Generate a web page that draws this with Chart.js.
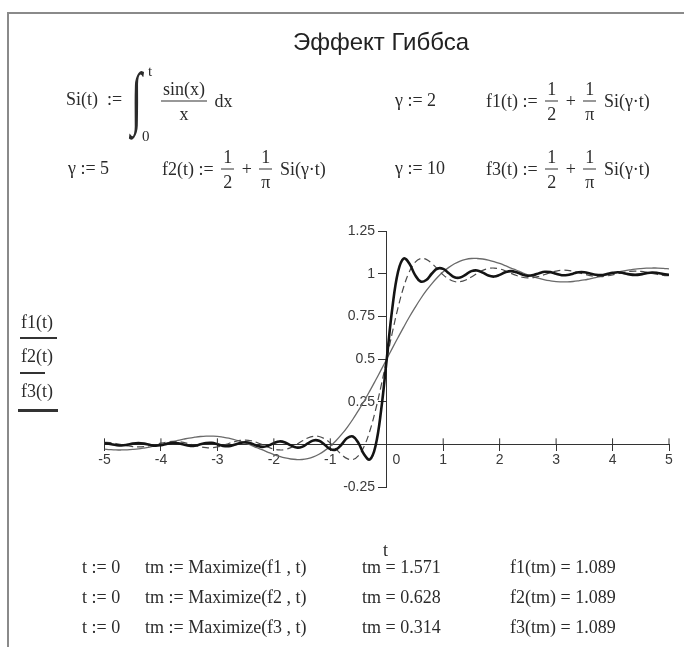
<!DOCTYPE html>
<html>
<head>
<meta charset="utf-8">
<script src="https://cdn.jsdelivr.net/npm/chart.js@4"></script>
<style>
  body { margin: 0; background: #fff; }
  #page { position: relative; width: 684px; height: 647px; overflow: hidden; background: #fff; }
  #myChart { position: absolute; left: 0; top: 0; }
  .m { position: absolute; display: flex; align-items: center; white-space: pre; transform: translateY(-50%);
       font: 18px "Liberation Serif", "Times New Roman", serif; color: #2b2b2b; }
  .fr { display: inline-flex; flex-direction: column; align-items: center; margin: 0 3px; line-height: 1; }
  .fr > span { padding: 3px 2px; }
  .fr > span:first-child { border-bottom: 1px solid #333; }
  .title { position: absolute; left: 381px; top: 42px; transform: translate(-50%, -50%);
           font: 24px "Liberation Sans", Arial, sans-serif; color: #222; white-space: pre; }
  .int { position: absolute; left: 131px; top: 97px; transform: translateY(-50%) scaleY(1.75);
         font: 40px "Liberation Serif", serif; color: #2b2b2b; }
  .lim { position: absolute; font: 15px "Liberation Serif", serif; color: #2b2b2b; transform: translateY(-50%); }
  .lg { position: absolute; background: #333; }
  .frame { position: absolute; background: #8a8a8a; }
</style>
</head>
<body>
<div id="page">
  <canvas id="myChart" width="684" height="647"></canvas>

  <div class="frame" style="left:8px; top:12px; width:676px; height:2px;"></div>
  <div class="frame" style="left:7px; top:12px; width:2px; height:635px;"></div>

  <div class="title">Эффект Гиббса</div>

  <div class="m" style="left:66px; top:99px;">Si(t)  :=</div>
  <div class="int">∫</div>
  <div class="lim" style="left:148px; top:71px;">t</div>
  <div class="lim" style="left:142px; top:136px;">0</div>
  <div class="m" style="left:158px; top:101px;"><span class="fr"><span>sin(x)</span><span>x</span></span> dx</div>

  <div class="m" style="left:395px; top:100px;">γ := 2</div>
  <div class="m" style="left:486px; top:101px;">f1(t) := <span class="fr"><span>1</span><span>2</span></span> + <span class="fr"><span>1</span><span>π</span></span> Si(γ·t)</div>

  <div class="m" style="left:68px; top:168px;">γ := 5</div>
  <div class="m" style="left:162px; top:169px;">f2(t) := <span class="fr"><span>1</span><span>2</span></span> + <span class="fr"><span>1</span><span>π</span></span> Si(γ·t)</div>
  <div class="m" style="left:395px; top:168px;">γ := 10</div>
  <div class="m" style="left:486px; top:169px;">f3(t) := <span class="fr"><span>1</span><span>2</span></span> + <span class="fr"><span>1</span><span>π</span></span> Si(γ·t)</div>

  <div class="m" style="left:21px; top:322px;">f1(t)</div>
  <div class="lg" style="left:20px; top:337px; width:37px; height:1.5px;"></div>
  <div class="m" style="left:21px; top:356px;">f2(t)</div>
  <div class="lg" style="left:20px; top:372px; width:25px; height:1.5px;"></div>
  <div class="m" style="left:21px; top:391px;">f3(t)</div>
  <div class="lg" style="left:18px; top:409px; width:40px; height:2.5px;"></div>

  <div class="m" style="left:383px; top:550px;">t</div>

  <div class="m" style="left:82px; top:567px;">t := 0</div>
  <div class="m" style="left:145px; top:567px;">tm := Maximize(f1 , t)</div>
  <div class="m" style="left:362px; top:567px;">tm = 1.571</div>
  <div class="m" style="left:510px; top:567px;">f1(tm) = 1.089</div>

  <div class="m" style="left:82px; top:597px;">t := 0</div>
  <div class="m" style="left:145px; top:597px;">tm := Maximize(f2 , t)</div>
  <div class="m" style="left:362px; top:597px;">tm = 0.628</div>
  <div class="m" style="left:510px; top:597px;">f2(tm) = 1.089</div>

  <div class="m" style="left:82px; top:627px;">t := 0</div>
  <div class="m" style="left:145px; top:627px;">tm := Maximize(f3 , t)</div>
  <div class="m" style="left:362px; top:627px;">tm = 0.314</div>
  <div class="m" style="left:510px; top:627px;">f3(tm) = 1.089</div>
</div>

<script>
// values, t from -5 to 5
const tValues = [
  -5, -4.9, -4.8, -4.7, -4.6, -4.5, -4.4, -4.3, -4.2, -4.1,
  -4, -3.9, -3.8, -3.7, -3.6, -3.5, -3.4, -3.3, -3.2, -3.1,
  -3, -2.9, -2.8, -2.7, -2.6, -2.5, -2.4, -2.3, -2.2, -2.1,
  -2, -1.9, -1.8, -1.7, -1.6, -1.5, -1.4, -1.3, -1.2, -1.1,
  -1, -0.9, -0.8, -0.7, -0.6, -0.5, -0.4, -0.3, -0.2, -0.1,
  0, 0.1, 0.2, 0.3, 0.4, 0.5, 0.6, 0.7, 0.8, 0.9,
  1, 1.1, 1.2, 1.3, 1.4, 1.5, 1.6, 1.7, 1.8, 1.9,
  2, 2.1, 2.2, 2.3, 2.4, 2.5, 2.6, 2.7, 2.8, 2.9,
  3, 3.1, 3.2, 3.3, 3.4, 3.5, 3.6, 3.7, 3.8, 3.9,
  4, 4.1, 4.2, 4.3, 4.4, 4.5, 4.6, 4.7, 4.8, 4.9,
  5
];

const f1Values = [
  -0.028, -0.031, -0.033, -0.033, -0.032, -0.030, -0.027, -0.022, -0.016, -0.009,
  -0.001, 0.007, 0.015, 0.023, 0.030, 0.037, 0.042, 0.046, 0.048, 0.048,
  0.047, 0.042, 0.036, 0.028, 0.018, 0.007, -0.006, -0.020, -0.033, -0.047,
  -0.060, -0.071, -0.080, -0.086, -0.089, -0.089, -0.084, -0.074, -0.058, -0.037,
  -0.011, 0.021, 0.058, 0.100, 0.147, 0.199, 0.254, 0.313, 0.374, 0.436,
  0.500, 0.564, 0.626, 0.687, 0.746, 0.801, 0.853, 0.900, 0.942, 0.979,
  1.011, 1.037, 1.058, 1.074, 1.084, 1.089, 1.089, 1.086, 1.080, 1.071,
  1.060, 1.047, 1.033, 1.020, 1.006, 0.993, 0.982, 0.972, 0.964, 0.958,
  0.953, 0.952, 0.952, 0.954, 0.958, 0.963, 0.970, 0.977, 0.985, 0.993,
  1.001, 1.009, 1.016, 1.022, 1.027, 1.030, 1.032, 1.033, 1.033, 1.031,
  1.028
];

const f2Values = [
  0.012, 0.010, 0.005, -0.001, -0.008, -0.013, -0.015, -0.013, -0.008, -0.001,
  0.007, 0.013, 0.017, 0.016, 0.011, 0.003, -0.006, -0.014, -0.019, -0.020,
  -0.015, -0.006, 0.005, 0.015, 0.023, 0.025, 0.021, 0.011, -0.002, -0.017,
  -0.028, -0.033, -0.030, -0.019, -0.001, 0.019, 0.037, 0.047, 0.046, 0.032,
  0.007, -0.027, -0.060, -0.084, -0.089, -0.066, -0.011, 0.078, 0.199, 0.343,
  0.500, 0.657, 0.801, 0.922, 1.011, 1.066, 1.089, 1.084, 1.060, 1.027,
  0.993, 0.968, 0.954, 0.953, 0.963, 0.981, 1.001, 1.019, 1.030, 1.033,
  1.028, 1.017, 1.002, 0.989, 0.979, 0.975, 0.977, 0.985, 0.995, 1.006,
  1.015, 1.020, 1.019, 1.014, 1.006, 0.997, 0.989, 0.984, 0.983, 0.987,
  0.993, 1.001, 1.008, 1.013, 1.015, 1.013, 1.008, 1.001, 0.995, 0.990,
  0.988
];

const f3Values = [
  0.006, 0.002, -0.004, -0.007, -0.003, 0.004, 0.007, 0.004, -0.003, -0.008,
  -0.005, 0.002, 0.008, 0.006, -0.001, -0.008, -0.008, 0.000, 0.008, 0.009,
  0.001, -0.009, -0.011, -0.003, 0.008, 0.012, 0.005, -0.008, -0.015, -0.008,
  0.007, 0.017, 0.011, -0.006, -0.019, -0.015, 0.005, 0.023, 0.021, -0.002,
  -0.028, -0.030, -0.001, 0.037, 0.046, 0.007, -0.060, -0.089, -0.011, 0.199,
  0.500, 0.801, 1.011, 1.089, 1.060, 0.993, 0.954, 0.963, 1.001, 1.030,
  1.028, 1.002, 0.979, 0.977, 0.995, 1.015, 1.019, 1.006, 0.989, 0.983,
  0.993, 1.008, 1.015, 1.008, 0.995, 0.988, 0.992, 1.003, 1.011, 1.009,
  0.999, 0.991, 0.992, 1.000, 1.008, 1.008, 1.001, 0.994, 0.992, 0.998,
  1.005, 1.008, 1.003, 0.996, 0.993, 0.996, 1.003, 1.007, 1.004, 0.998,
  0.994
];

function points(values) {
  return tValues.map(function(t, i) {
    return {x: t, y: values[i]};
  });
}

// mathcad style ticks cross the x axis
const crossTicks = {
  id: 'crossTicks',
  afterDraw(chart) {
    const ctx = chart.ctx;
    const xs = chart.scales.x;
    const y0 = chart.scales.y.getPixelForValue(0);
    ctx.save();
    ctx.strokeStyle = '#333';
    ctx.lineWidth = 1;
    xs.ticks.forEach(function(tk) {
      if (tk.value === 0) return;
      const px = xs.getPixelForValue(tk.value);
      ctx.beginPath();
      ctx.moveTo(px, y0 - 6);
      ctx.lineTo(px, y0);
      ctx.stroke();
    });
    ctx.restore();
  }
};

const tickFont = { family: '"Liberation Sans", Arial, sans-serif', size: 14 };

const data = {
  datasets: [
    {
      label: 'f3(t)',
      data: points(f3Values),
      borderColor: '#141414',
      borderWidth: 2.6,
      pointRadius: 0,
      tension: 0.4
    },
    {
      label: 'f2(t)',
      data: points(f2Values),
      borderColor: '#4a4a4a',
      borderWidth: 1.2,
      borderDash: [7, 4],
      pointRadius: 0,
      tension: 0.4
    },
    {
      label: 'f1(t)',
      data: points(f1Values),
      borderColor: '#6a6a6a',
      borderWidth: 1.3,
      pointRadius: 0,
      tension: 0.4
    }
  ]
};

const config = {
  type: 'line',
  data: data,
  options: {
    responsive: false,
    animation: false,
    events: [],
    layout: { padding: { left: 104.5, right: 15, top: 231, bottom: 160 } },
    plugins: { legend: { display: false }, tooltip: { enabled: false } },
    scales: {
      x: {
        type: 'linear',
        min: -5,
        max: 5,
        position: { y: 0 },
        ticks: {
          stepSize: 1,
          autoSkip: false,
          maxRotation: 0,
          padding: 1,
          color: '#3a3a3a',
          font: tickFont,
          callback: function(v) { return v === 0 ? '     0' : v; }
        },
        grid: { drawOnChartArea: false, drawTicks: true, tickLength: 6, color: '#333' },
        border: { color: '#333', width: 1 }
      },
      y: {
        type: 'linear',
        min: -0.25,
        max: 1.25,
        position: { x: 0 },
        ticks: {
          stepSize: 0.25,
          color: '#3a3a3a',
          font: tickFont,
          // labels sit right-aligned on the axis, push them past the tick mark
          callback: function(v) { return v === 0 ? '' : v + '   '; }
        },
        grid: { drawOnChartArea: false, drawTicks: true, tickLength: 8, color: '#333' },
        border: { color: '#333', width: 1 }
      }
    }
  },
  plugins: [crossTicks]
};

const myChart = new Chart(document.getElementById('myChart'), config);
</script>
</body>
</html>
